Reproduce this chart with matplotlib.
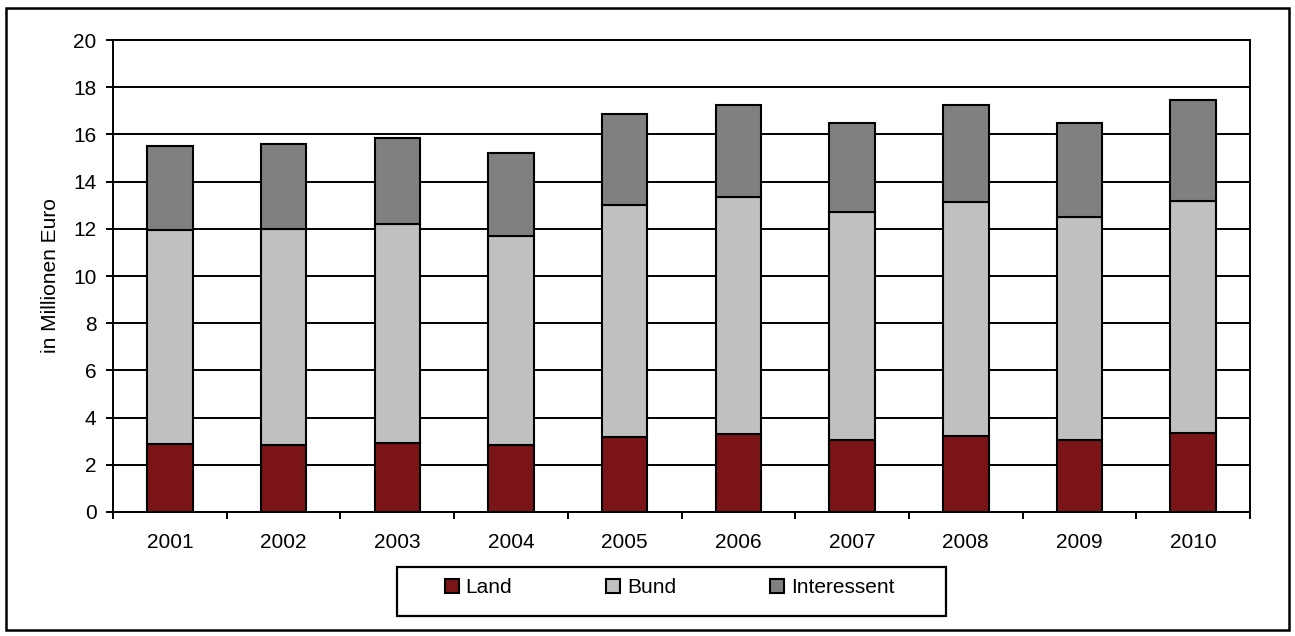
import numpy as np
import matplotlib
matplotlib.use('Agg')
import matplotlib.pyplot as plt
from matplotlib.patches import Rectangle

plt.rcParams['font.family'] = ['Liberation Sans', 'DejaVu Sans']

years = ['2001', '2002', '2003', '2004', '2005', '2006', '2007', '2008', '2009', '2010']
land = [2.87, 2.84, 2.92, 2.83, 3.18, 3.30, 3.06, 3.20, 3.04, 3.34]
bund_top = [11.96, 12.00, 12.22, 11.68, 12.99, 13.36, 12.70, 13.15, 12.51, 13.19]
total = [15.53, 15.61, 15.85, 15.22, 16.86, 17.24, 16.50, 17.23, 16.48, 17.45]

land = np.array(land)
bund = np.array(bund_top) - land
interessent = np.array(total) - np.array(bund_top)

fs = 15
fig = plt.figure(figsize=(12.95, 6.36), dpi=100)
ax = fig.add_axes([0.0873, 0.195, 0.878, 0.742])

x = np.arange(len(years))
w = 0.4
kw = dict(width=w, edgecolor='black', linewidth=1.5, zorder=3)
ax.bar(x, land, color='#7b1416', label='Land', **kw)
ax.bar(x, bund, bottom=land, color='#c0c0c0', label='Bund', **kw)
ax.bar(x, interessent, bottom=land + bund, color='#808080', label='Interessent', **kw)

ax.set_xlim(-0.5, len(years) - 0.5)
ax.set_ylim(0, 20)
ax.set_yticks(np.arange(0, 21, 2))
ax.yaxis.grid(True, color='black', linewidth=1.4, zorder=0)
ax.set_axisbelow(True)

ax.set_xticks(x)
ax.set_xticklabels(years)
ax.set_xticks(np.arange(-0.5, len(years)), minor=True)
ax.tick_params(axis='x', which='major', length=0, pad=15, labelsize=fs)
ax.tick_params(axis='x', which='minor', length=5, width=1.4, direction='out')
ax.tick_params(axis='y', length=5, width=1.4, labelsize=fs, pad=7)

for s in ax.spines.values():
    s.set_linewidth(1.4)
    s.set_color('black')

ax.set_ylabel('in Millionen Euro', fontsize=fs)
ax.yaxis.set_label_coords(-0.047, 0.5)

# legend without its own frame, box drawn separately to match the wide frame
leg = fig.legend(loc='center', bbox_to_anchor=(0.517, 0.0755), ncol=3, fontsize=fs,
                 frameon=False, handlelength=0.67, handleheight=0.67,
                 handletextpad=0.34, columnspacing=4.5)
for h in leg.legend_handles:
    h.set_linewidth(1.5)
    h.set_edgecolor('black')

fig.patches.append(Rectangle((397 / 1295, 1 - 616 / 636), 549 / 1295, 49 / 636,
                             transform=fig.transFigure, fill=False,
                             edgecolor='black', linewidth=1.6))
fig.patches.append(Rectangle((0.005, 0.01), 0.99, 0.977, transform=fig.transFigure,
                             fill=False, edgecolor='black', linewidth=1.8))

fig.savefig('out.png', dpi=100)
